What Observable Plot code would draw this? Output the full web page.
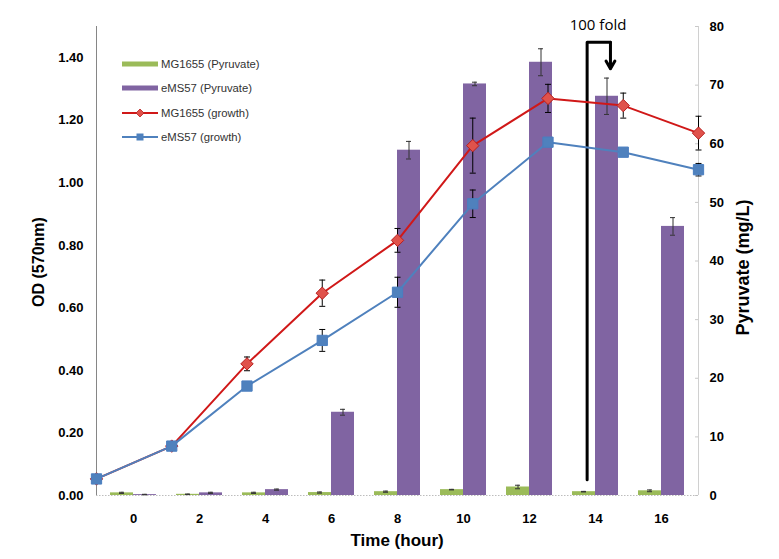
<!DOCTYPE html>
<html><head><meta charset="utf-8">
<script src="https://cdn.jsdelivr.net/npm/d3@7"></script>
<script src="https://cdn.jsdelivr.net/npm/@observablehq/plot@0.6"></script>
<style>
body{margin:0;background:#fff;}
#wrap{position:relative;width:779px;height:559px;font-family:"Liberation Sans",Arial,sans-serif;overflow:hidden;}
#wrap svg{position:absolute;left:0;top:0;overflow:visible;}
.ttl{position:absolute;white-space:nowrap;font-weight:bold;color:#000;transform-origin:center;}
.lg{position:absolute;left:122px;height:14px;display:flex;align-items:center;font-size:11.3px;color:#333;white-space:nowrap;}
.lg svg{position:static !important;margin-right:3px;}
.plotA [aria-label^="y-axis"] line,.plotA [aria-label^="y-axis"] path{stroke:#c8c8c8;}
</style></head><body><div id="wrap"></div>
<script>
// ---- data ----
const times = [0, 2, 4, 6, 8, 10, 12, 14, 16];
const timeLabels = ["0", "2", "4", "6", "8", "10", "12", "14", "16"];
const pyrMG     = [0.45, 0.2, 0.45, 0.5, 0.65, 1.0, 1.45, 0.65, 0.8];
const pyrMGErr  = [0.1, 0.05, 0.1, 0.1, 0.1, 0.05, 0.3, 0.05, 0.15];
const pyrEMS    = [0.15, 0.45, 1.0, 14.2, 58.9, 70.2, 73.9, 68.1, 45.9];
const pyrEMSErr = [0.05, 0.1, 0.1, 0.5, 1.5, 0.3, 2.3, 3.1, 1.5];
const odMG      = [0.053, 0.158, 0.421, 0.647, 0.816, 1.119, 1.27, 1.247, 1.159];
const odMGErr   = [0.01, 0.01, 0.022, 0.042, 0.038, 0.088, 0.045, 0.04, 0.054];
const odEMS     = [0.053, 0.158, 0.350, 0.496, 0.650, 0.933, 1.13, 1.098, 1.042];
const odEMSErr  = [0.005, 0.005, 0.005, 0.035, 0.048, 0.044, 0.01, 0.01, 0.02];
const odTicks   = [0, 0.2, 0.4, 0.6, 0.8, 1.0, 1.2, 1.4];
const pyrTicks  = [0, 10, 20, 30, 40, 50, 60, 70, 80];
const seriesNames = ["MG1655 (Pyruvate)", "eMS57 (Pyruvate)", "MG1655 (growth)", "eMS57 (growth)"];
const annotationText = "100 fold";
const foldLine = [{t: 13.04, v: 0.05}, {t: 13.04, v: 1.45}, {t: 13.66, v: 1.45}];
const foldArrow = [{t1: 13.66, v1: 1.45, t2: 13.66, v2: 1.365}];
const foldLabel = [{t: 13.33, v: 1.505}];

// ---- tables ----
const bars = [];
timeLabels.forEach((k, i) => {
  bars.push({time: k, series: "MG", value: pyrMG[i], err: pyrMGErr[i]});
  bars.push({time: k, series: "EMS", value: pyrEMS[i], err: pyrEMSErr[i]});
});
const pts = [];
times.forEach((t, i) => {
  pts.push({t, series: "MG", od: odMG[i], err: odMGErr[i]});
  pts.push({t, series: "EMS", od: odEMS[i], err: odEMSErr[i]});
});
const ptsMG = pts.filter(d => d.series === "MG");
const ptsEMS = pts.filter(d => d.series === "EMS");

const W = 779, H = 559;
const margins = {marginTop: 26, marginRight: 81, marginBottom: 64, marginLeft: 96};
const font = "Liberation Sans, Arial, sans-serif";
const GREEN = "#9BBB59", PURPLE = "#8064A2", RED = "#D01818", REDF = "#E0524B", BLUE = "#4F81BD";

const plotA = Plot.plot({
  width: W, height: H, ...margins,
  style: {background: "transparent", fontFamily: font, fontSize: "13px", fontWeight: "bold", color: "#000", overflow: "visible"},
  facet: {data: bars, x: "time"},
  fx: {domain: timeLabels, padding: 0, axis: "bottom", tickSize: 0, tickPadding: 18, label: null},
  x: {domain: ["MG", "EMS"], paddingInner: 0, paddingOuter: 0.43, axis: null},
  y: {domain: [0, 80], axis: "right", ticks: pyrTicks, tickSize: 3, tickPadding: 12, label: null, tickFormat: d3.format("d")},
  color: {domain: ["MG", "EMS"], range: [GREEN, PURPLE]},
  marks: [
    Plot.barY(bars, {x: "series", y: "value", fill: "series"}),
    Plot.ruleX(bars, {x: "series", y1: d => Math.max(0, d.value - d.err), y2: d => d.value + d.err, stroke: "#333", strokeWidth: 1}),
    Plot.tickY(bars, {x: "series", y: d => d.value + d.err, insetLeft: 9, insetRight: 9, stroke: "#333"}),
    Plot.tickY(bars, {x: "series", y: d => Math.max(0, d.value - d.err), insetLeft: 9, insetRight: 9, stroke: "#333"})
  ]
});
plotA.classList.add("plotA");

const capSymbol = {draw(ctx) { ctx.moveTo(-3, 0); ctx.lineTo(3, 0); }};

const plotB = Plot.plot({
  width: W, height: H, ...margins,
  style: {background: "transparent", fontFamily: font, fontSize: "13px", fontWeight: "bold", color: "#000", overflow: "visible"},
  x: {domain: [0, 16], axis: null},
  y: {domain: [0, 1.5], ticks: odTicks, tickFormat: d3.format(".2f"), tickSize: 0, tickPadding: 13, label: null},
  marks: [
    Plot.ruleY([0], {stroke: "#bdbdbd", strokeDasharray: "1.5,1.5"}),
    Plot.ruleX([0], {stroke: "#868686"}),
    Plot.ruleX([16], {stroke: "#d0d0d0"}),
    Plot.line(foldLine, {x: "t", y: "v", stroke: "#000", strokeWidth: 3}),
    Plot.arrow(foldArrow, {x1: "t1", y1: "v1", x2: "t2", y2: "v2", stroke: "#000", strokeWidth: 3, headLength: 9}),
    Plot.text(foldLabel, {x: "t", y: "v", text: () => annotationText, fontSize: 15, fontWeight: "normal", fontFamily: "Open Sans, sans-serif", fill: "#000"}),
    Plot.ruleX(pts, {x: "t", y1: d => d.od - d.err, y2: d => d.od + d.err, stroke: "#000", strokeWidth: 1}),
    Plot.dot(pts, {x: "t", y: d => d.od + d.err, symbol: capSymbol, fill: "none", stroke: "#000", strokeWidth: 1}),
    Plot.dot(pts, {x: "t", y: d => d.od - d.err, symbol: capSymbol, fill: "none", stroke: "#000", strokeWidth: 1}),
    Plot.line(ptsMG, {x: "t", y: "od", stroke: RED, strokeWidth: 2}),
    Plot.line(ptsEMS, {x: "t", y: "od", stroke: BLUE, strokeWidth: 2}),
    Plot.dot(ptsMG, {x: "t", y: "od", symbol: "diamond2", r: 5.6, fill: REDF, stroke: "#B82020", strokeWidth: 1}),
    Plot.dot(ptsEMS, {x: "t", y: "od", symbol: "square", r: 5.8, fill: BLUE, stroke: "#4A7EC0", strokeWidth: 1})
  ]
});

const wrap = document.getElementById("wrap");
wrap.appendChild(plotA);
wrap.appendChild(plotB);

// axis titles
function title(text, x, y, size, rot) {
  const d = document.createElement("div");
  d.className = "ttl";
  d.textContent = text;
  d.style.fontSize = size + "px";
  wrap.appendChild(d);
  const w = d.offsetWidth, h = d.offsetHeight;
  d.style.left = (x - w / 2) + "px";
  d.style.top = (y - h / 2) + "px";
  if (rot) d.style.transform = "rotate(" + rot + "deg)";
}
title("Time (hour)", 397, 541, 17, 0);
title("OD (570nm)", 39, 262, 16, -90);
title("Pyruvate (mg/L)", 743, 267, 18, -90);

// legend
const legendY = [64, 88, 113, 137];
const swatch = [
  `<svg width="36" height="8"><rect x="0" y="1.5" width="36" height="5" fill="${GREEN}"/></svg>`,
  `<svg width="36" height="8"><rect x="0" y="1.5" width="36" height="5" fill="${PURPLE}"/></svg>`,
  `<svg width="36" height="10"><line x1="0" y1="5" x2="36" y2="5" stroke="${RED}" stroke-width="2"/><path d="M18,1L22,5L18,9L14,5Z" fill="${REDF}" stroke="#B82020" stroke-width="0.8"/></svg>`,
  `<svg width="36" height="10"><line x1="0" y1="5" x2="36" y2="5" stroke="${BLUE}" stroke-width="2"/><rect x="14.5" y="1.5" width="7" height="7" fill="${BLUE}"/></svg>`
];
seriesNames.forEach((name, i) => {
  const row = document.createElement("div");
  row.className = "lg";
  row.style.top = (legendY[i] - 7) + "px";
  row.innerHTML = swatch[i] + "<span>" + name + "</span>";
  wrap.appendChild(row);
});
</script></body></html>
